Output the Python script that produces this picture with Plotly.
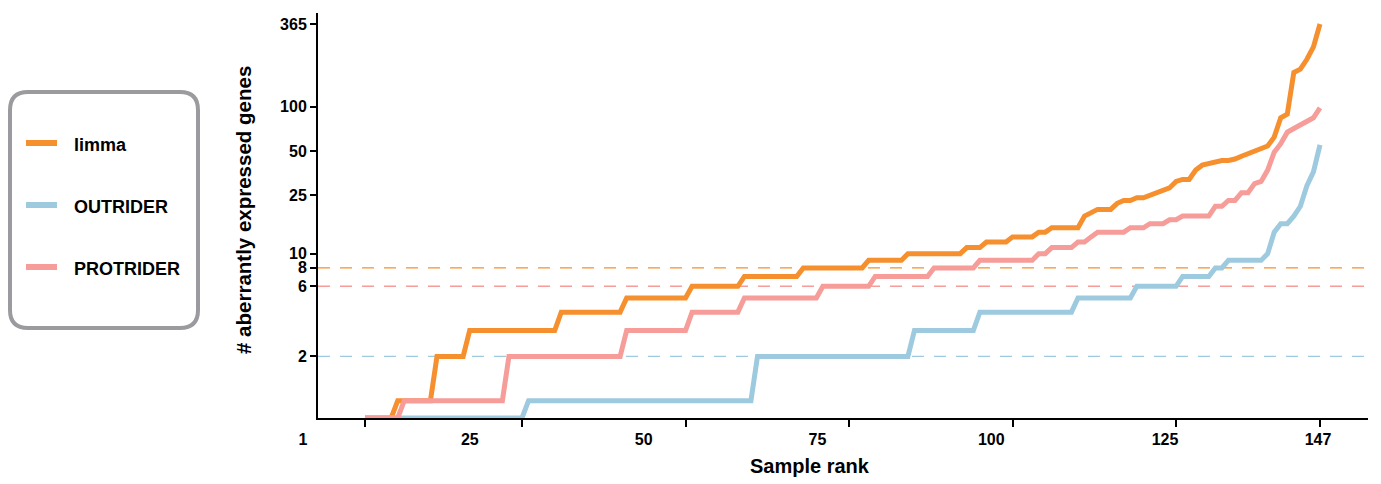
import numpy as np
import plotly.graph_objects as go

# ---------------- data ----------------
ranks = list(range(1, 148))

limma = [0, 0, 0, 0, 0,
         1, 1, 1, 1, 1, 1,
         2, 2, 2, 2, 2,
         3, 3, 3, 3, 3, 3, 3, 3, 3, 3, 3, 3, 3, 3,
         4, 4, 4, 4, 4, 4, 4, 4, 4, 4,
         5, 5, 5, 5, 5, 5, 5, 5, 5, 5,
         6, 6, 6, 6, 6, 6, 6, 6,
         7, 7, 7, 7, 7, 7, 7, 7, 7,
         8, 8, 8, 8, 8, 8, 8, 8, 8, 8,
         9, 9, 9, 9, 9, 9,
         10, 10, 10, 10, 10, 10, 10, 10, 10,
         11, 11, 11,
         12, 12, 12, 12,
         13, 13, 13, 13,
         14, 14,
         15, 15, 15, 15, 15,
         18, 19, 20, 20, 20, 22, 23, 23, 24, 24, 25, 26, 27, 28, 31, 32, 32,
         37, 40, 41, 42, 43, 43, 44, 46, 48, 50, 52, 54, 62, 84, 89, 171, 180,
         210, 255, 365]

outrider = [0, 0, 0, 0, 0, 0, 0, 0, 0, 0, 0, 0, 0, 0, 0, 0, 0, 0, 0, 0, 0, 0, 0, 0, 0,
            1, 1, 1, 1, 1, 1, 1, 1, 1, 1, 1, 1, 1, 1, 1, 1, 1, 1, 1, 1, 1, 1, 1, 1, 1,
            1, 1, 1, 1, 1, 1, 1, 1, 1, 1,
            2, 2, 2, 2, 2, 2, 2, 2, 2, 2, 2, 2, 2, 2, 2, 2, 2, 2, 2, 2, 2, 2, 2, 2,
            3, 3, 3, 3, 3, 3, 3, 3, 3, 3,
            4, 4, 4, 4, 4, 4, 4, 4, 4, 4, 4, 4, 4, 4, 4,
            5, 5, 5, 5, 5, 5, 5, 5, 5,
            6, 6, 6, 6, 6, 6, 6,
            7, 7, 7, 7, 7,
            8, 8,
            9, 9, 9, 9, 9, 9,
            10, 14, 16, 16, 18, 21, 29, 36, 55]

protrider = [0, 0, 0, 0, 0, 0,
             1, 1, 1, 1, 1, 1, 1, 1, 1, 1, 1, 1, 1, 1, 1, 1,
             2, 2, 2, 2, 2, 2, 2, 2, 2, 2, 2, 2, 2, 2, 2, 2, 2, 2,
             3, 3, 3, 3, 3, 3, 3, 3, 3, 3,
             4, 4, 4, 4, 4, 4, 4, 4,
             5, 5, 5, 5, 5, 5, 5, 5, 5, 5, 5, 5,
             6, 6, 6, 6, 6, 6, 6, 6,
             7, 7, 7, 7, 7, 7, 7, 7, 7,
             8, 8, 8, 8, 8, 8, 8,
             9, 9, 9, 9, 9, 9, 9, 9, 9,
             10, 10,
             11, 11, 11, 11,
             12, 12,
             13,
             14, 14, 14, 14, 14,
             15, 15, 15,
             16, 16, 16,
             17, 17,
             18, 18, 18, 18, 18,
             21, 21, 23, 23, 26, 26, 30, 31, 37, 49, 56, 67, 71, 75, 79, 84, 98]

series_names = ["limma", "OUTRIDER", "PROTRIDER"]
x_tick_values = [1, 25, 50, 75, 100, 125, 147]
y_tick_values = [2, 6, 8, 10, 25, 50, 100, 365]

assert len(limma) == len(outrider) == len(protrider) == len(ranks)

# ---------------- style ----------------
colors = {"limma": "#F68F2D", "OUTRIDER": "#9DCADF", "PROTRIDER": "#F69C99"}
FONT = "Liberation Sans, Arial, sans-serif"
W, H = 1381, 484
ML, MR, MT, MB = 290, 13, 13, 66
PW, PH = W - ML - MR, H - MT - MB

def px(xp):
    return (xp - ML) / PW

def py(yp):
    return (H - MB - yp) / PH

Y_RANGE = [-0.118, 2.637]          # log10 units
X_RANGE = [-6.19, 154.34]          # rank units (data axis)
X2_RANGE = [-0.87, 154.19]         # rank units (label axis)
floor_val = 10 ** Y_RANGE[0]

fig = go.Figure()
series = {"limma": limma, "OUTRIDER": outrider, "PROTRIDER": protrider}

# label axis helper trace (invisible)
fig.add_trace(go.Scatter(x=[], y=[], xaxis="x2", yaxis="y", showlegend=False,
                         hoverinfo="skip"))

for name in series_names:
    vals = np.array(series[name], dtype=float)
    shown = np.where(vals <= 0, floor_val, vals)
    fig.add_trace(go.Scatter(
        x=ranks, y=shown, mode="lines", name=name,
        line=dict(color=colors[name], width=5),
        cliponaxis=False, showlegend=False,
        xaxis="x", yaxis="y"))

# median threshold lines
for name in series_names:
    med = float(np.median(series[name]))
    fig.add_shape(type="line", xref="x domain", x0=0, x1=1, yref="y",
                  y0=med, y1=med, layer="below",
                  line=dict(color=colors[name], width=1.3, dash="12px,10px"))

# legend box (rounded)
x0, x1, y0, y1, r = 10, 198, 92, 328, 18
pts = [("M", x0 + r, y0), ("L", x1 - r, y0), ("Q", x1, y0, x1, y0 + r),
       ("L", x1, y1 - r), ("Q", x1, y1, x1 - r, y1), ("L", x0 + r, y1),
       ("Q", x0, y1, x0, y1 - r), ("L", x0, y0 + r), ("Q", x0, y0, x0 + r, y0)]
path = ""
for p in pts:
    cmd = p[0]
    coords = p[1:]
    segs = []
    for i in range(0, len(coords), 2):
        segs.append(f"{px(coords[i]):.5f},{py(coords[i + 1]):.5f}")
    path += cmd + " " + " ".join(segs) + " "
path += "Z"
fig.add_shape(type="path", xref="paper", yref="paper", path=path,
              line=dict(color="#9B9B9F", width=4))

legend_rows = [143, 205, 267]
for name, yl in zip(series_names, legend_rows):
    fig.add_shape(type="line", xref="paper", yref="paper",
                  x0=px(26), x1=px(57), y0=py(yl), y1=py(yl),
                  line=dict(color=colors[name], width=6))
    fig.add_annotation(text=name, xref="paper", yref="paper",
                       x=px(72), y=py(yl + 2), xanchor="left", yanchor="middle",
                       showarrow=False,
                       font=dict(family=FONT, size=18, color="black", weight="bold"))

# axis titles
fig.add_annotation(text="Sample rank", xref="paper", yref="paper",
                   x=px(810), y=py(466), xanchor="center", yanchor="middle",
                   showarrow=False,
                   font=dict(family=FONT, size=20, color="black", weight="bold"))
fig.add_annotation(text="# aberrantly expressed genes", xref="paper", yref="paper",
                   x=px(244), y=py(210), xanchor="center", yanchor="middle",
                   textangle=-90, showarrow=False,
                   font=dict(family=FONT, size=20.5, color="black", weight="bold"))

fig.update_layout(
    width=W, height=H,
    margin=dict(l=ML, r=MR, t=MT, b=MB),
    paper_bgcolor="white", plot_bgcolor="rgba(0,0,0,0)",
    showlegend=False,
    xaxis=dict(domain=[px(318), 1], range=X_RANGE, anchor="y",
               showline=True, linewidth=2, linecolor="black",
               ticks="outside", ticklen=7, tickwidth=2, tickcolor="black",
               tickvals=x_tick_values, showticklabels=False,
               showgrid=False, zeroline=False),
    xaxis2=dict(domain=[0, 1], range=X2_RANGE, anchor="y",
                showline=False, ticks="", tickvals=x_tick_values,
                ticktext=[str(v) for v in x_tick_values],
                ticklabelstandoff=10,
                tickfont=dict(family=FONT, size=16, color="black", weight="bold"),
                showgrid=False, zeroline=False),
    yaxis=dict(type="log", range=Y_RANGE, anchor="x", domain=[0, 1],
               showline=True, linewidth=2, linecolor="black",
               ticks="outside", ticklen=6, tickwidth=2, tickcolor="black",
               tickvals=y_tick_values, ticktext=[str(v) for v in y_tick_values],
               tickfont=dict(family=FONT, size=16, color="black", weight="bold"),
               showgrid=False, zeroline=False),
)

fig.write_html("out.html")
